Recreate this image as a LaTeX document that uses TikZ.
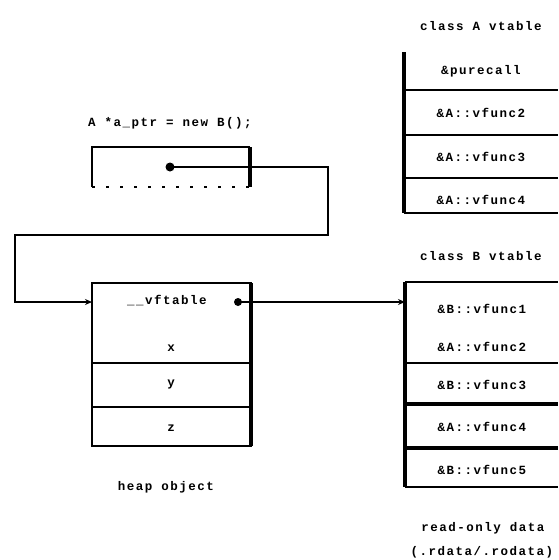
\documentclass[tikz,border=0pt]{standalone}
\usepackage{fontspec}
\newfontfamily\diagfont[LetterSpace=12]{Liberation Mono Bold}
\usetikzlibrary{arrows.meta}
\begin{document}
\begin{tikzpicture}[x=1pt,y=-1pt,
  lbl/.style={font=\diagfont\fontsize{12.5}{13}\selectfont, inner sep=0pt, anchor=center},
  thk/.style={line width=3.2pt},
  mid/.style={line width=2.5pt},
  thn/.style={line width=1.8pt},
  dotn/.style={circle, fill, inner sep=0pt, minimum size=9pt},
  conn/.style={line width=1.8pt, -{Stealth[length=7pt,width=6pt]}}]
\useasboundingbox (0,0) rectangle (558,560);

% ---- class A vtable (top right)
\node[lbl] (tA) at (481,26) {class A vtable};
\draw[thk] (404,52) -- (404,213);
\draw[mid] (404,90) -- (558,90);
\draw[mid] (404,135) -- (558,135);
\draw[mid] (404,178) -- (558,178);
\draw[thn] (404,213) -- (558,213);
\node[lbl] (a1) at (481,71) {\&purecall};
\node[lbl] (a2) at (481,113) {\&A::vfunc2};
\node[lbl] (a3) at (481,157) {\&A::vfunc3};
\node[lbl] (a4) at (481,200) {\&A::vfunc4};

% ---- pointer variable
\node[lbl] (cap) at (170,123) {A *a\_ptr = new B();};
\draw[thn] (92,187) -- (92,147) -- (250,147);
\draw[thk] (250,147) -- (250,187);
\draw[thn, dash pattern=on 3pt off 11pt] (92,187) -- (250,187);
\node[dotn] (pd) at (170,167) {};

% ---- object on the heap
\draw[thn] (92,283) rectangle (251,446);
\draw[thk] (251,283) -- (251,446);
\draw[thn] (92,363) -- (251,363);
\draw[mid] (92,407) -- (251,407);
\node[lbl] (ov) at (167,301) {\_\_vftable};
\node[lbl] (ox) at (171,348) {x};
\node[lbl] (oy) at (171,384) {y};
\node[lbl] (oz) at (171,428) {z};
\node[dotn, minimum size=8pt] (od) at (238,302) {};
\node[lbl] (heap) at (166,487) {heap object};

% ---- class B vtable (lower right)
\node[lbl] (tB) at (481,256) {class B vtable};
\draw[thk] (405,282) -- (405,487);
\draw[thn] (405,282) -- (558,282);
\draw[thn] (405,363) -- (558,363);
\draw[thk] (405,404) -- (558,404);
\draw[thk] (405,448) -- (558,448);
\draw[thn] (405,487) -- (558,487);
\node[lbl] (b1) at (482,309) {\&B::vfunc1};
\node[lbl] (b2) at (482,347) {\&A::vfunc2};
\node[lbl] (b3) at (482,385) {\&B::vfunc3};
\node[lbl] (b4) at (482,427) {\&A::vfunc4};
\node[lbl] (b5) at (482,470) {\&B::vfunc5};
\node[lbl] (ro1) at (483,528) {read-only data};
\node[lbl] (ro2) at (482,552) {(.rdata/.rodata)};

% ---- connectors
\coordinate (c1) at (328,235);
\coordinate (c2) at (15,302);
\coordinate (oin) at (92,302);
\coordinate (bin) at (405,302);
\draw[conn] (pd.center) -| (c1) -| (c2) -- (oin);
\draw[conn, line width=2.4pt] (od.center) -- (bin);
\end{tikzpicture}
\end{document}
